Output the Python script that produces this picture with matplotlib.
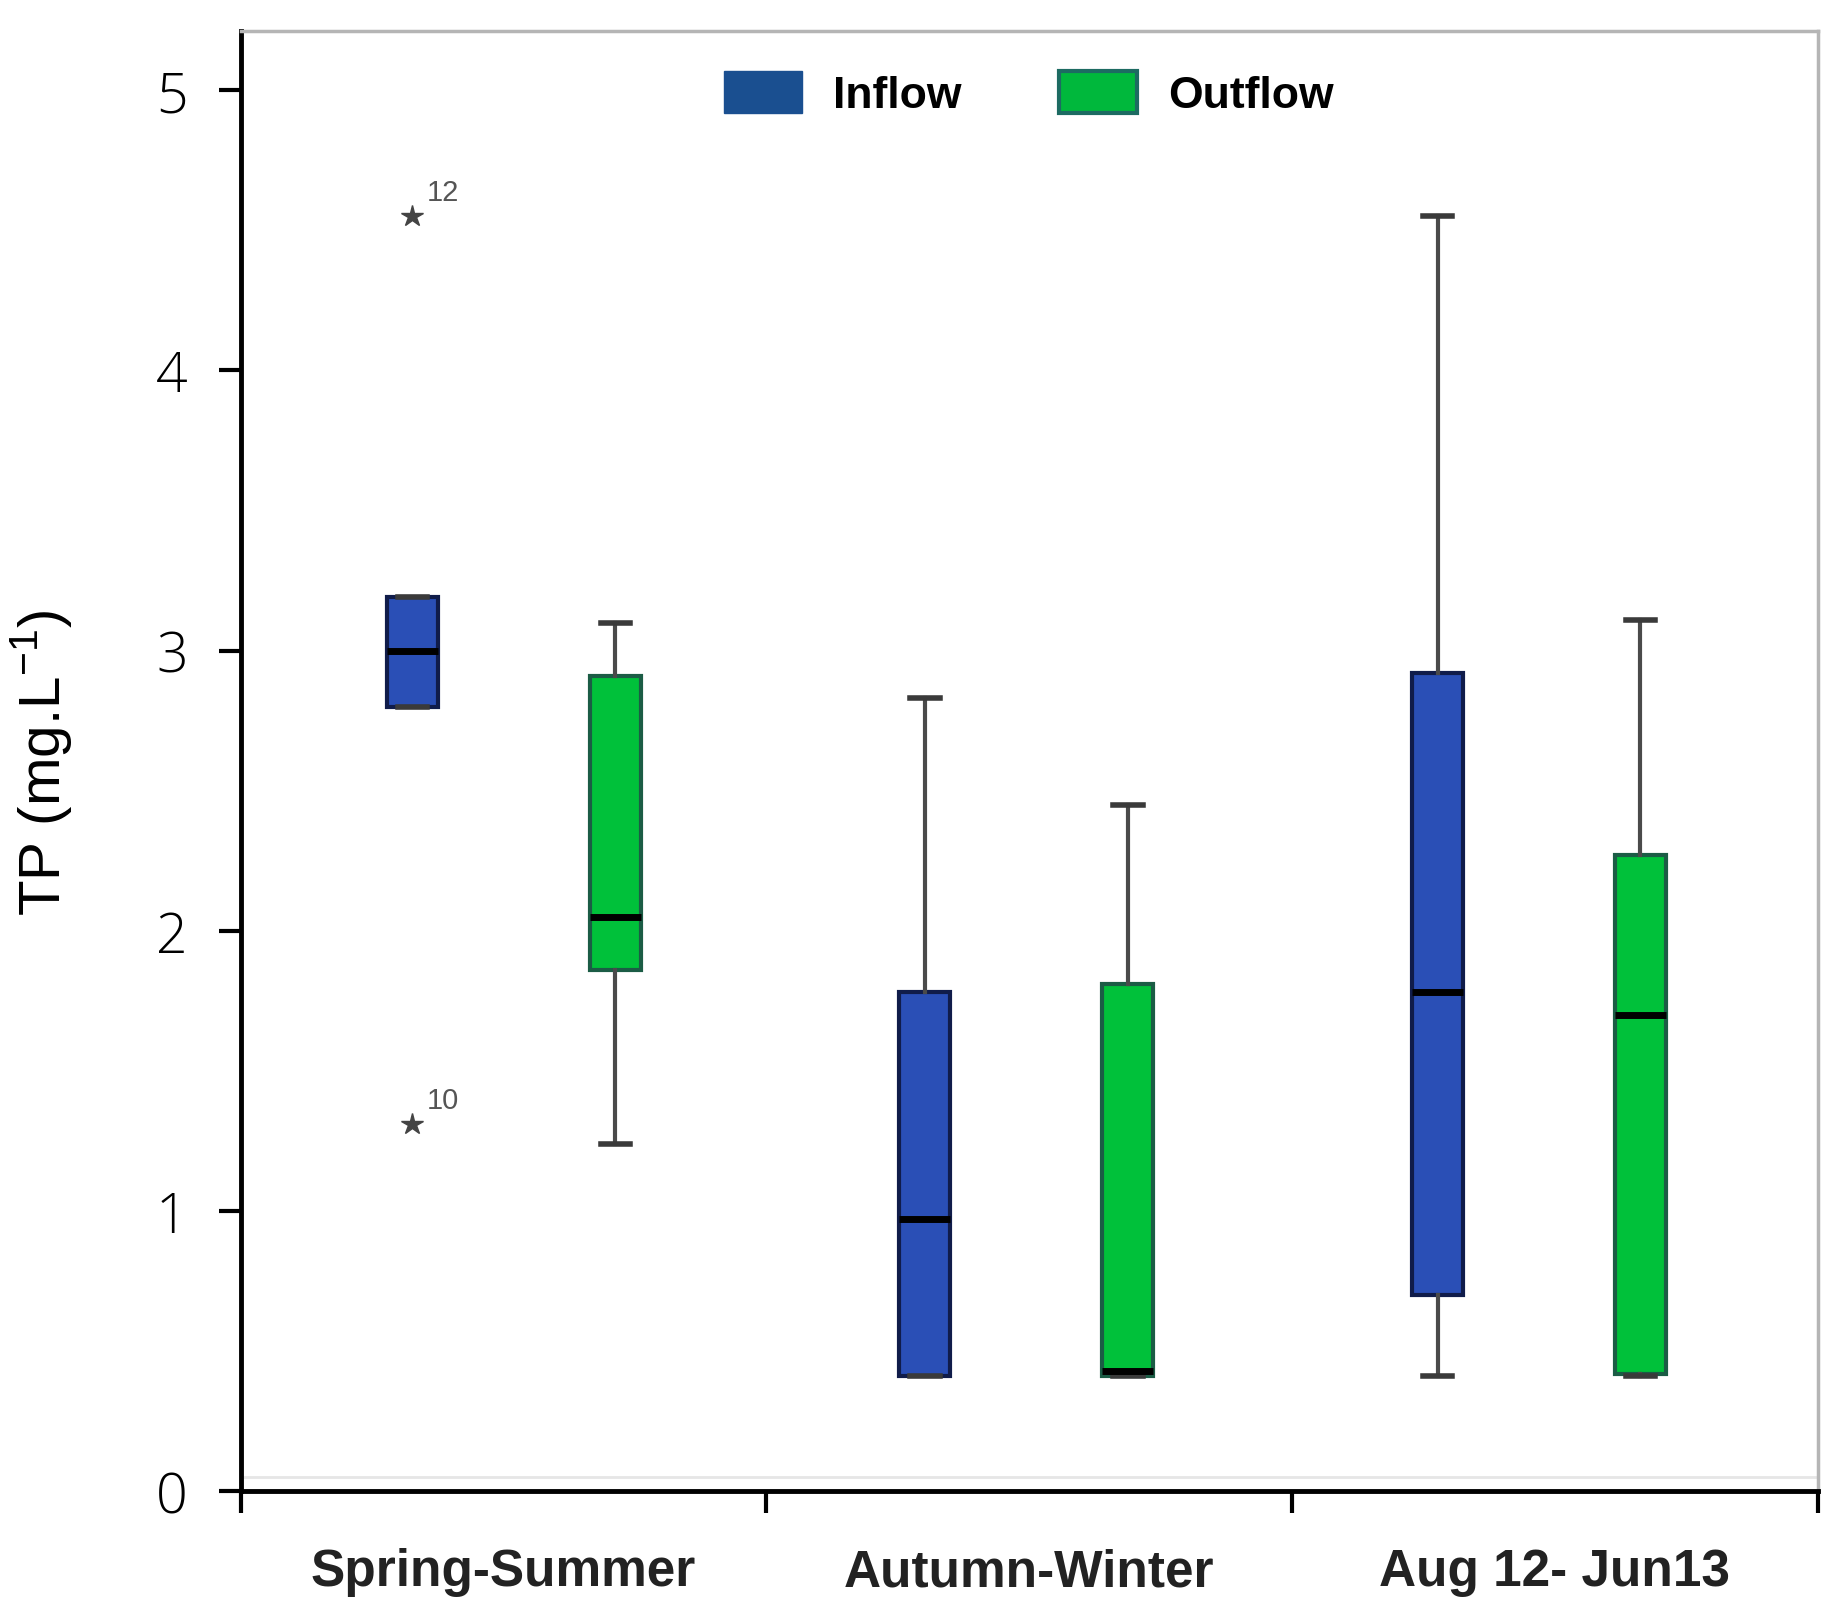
import matplotlib
matplotlib.use("Agg")
import matplotlib.pyplot as plt
from matplotlib.patches import Patch

# data (TP, mg/L)
categories = ["Spring-Summer", "Autumn-Winter", "Aug 12- Jun13"]
series = ["Inflow", "Outflow"]

# per box: Inflow SS, Outflow SS, Inflow AW, Outflow AW, Inflow Aug-Jun, Outflow Aug-Jun
whislo = [2.80, 1.24, 0.41, 0.41, 0.41, 0.41]
q1 = [2.80, 1.86, 0.41, 0.41, 0.70, 0.42]
med = [3.00, 2.05, 0.97, 0.43, 1.78, 1.70]
q3 = [3.19, 2.91, 1.78, 1.81, 2.92, 2.27]
whishi = [3.19, 3.10, 2.83, 2.45, 4.55, 3.11]
fliers = [[4.55, 1.31], [], [], [], [], []]
flier_ids = [["12", "10"], [], [], [], [], []]

fill_cols = ["#2a4fb6", "#00c13a"]
edge_cols = ["#101c4a", "#1b5c45"]
legend_cols = ["#1a4f90", "#00b83c"]

plt.rcParams["font.family"] = ["Liberation Sans", "DejaVu Sans"]

fig = plt.figure(figsize=(18.36, 16.15), dpi=100)
ax = fig.add_axes([0.131, 0.076, 0.859, 0.904])

offset = 0.193
positions = []
stats = []
for g in range(len(categories)):
    centre = 0.52 + g * 0.975
    for s in range(len(series)):
        i = g * 2 + s
        positions.append(centre + (-offset if s == 0 else offset))
        stats.append(dict(whislo=whislo[i], q1=q1[i], med=med[i], q3=q3[i],
                          whishi=whishi[i], fliers=[]))

bp = ax.bxp(stats, positions=positions, widths=0.097, patch_artist=True,
            showfliers=False,
            whiskerprops=dict(color="#4a4a4a", linewidth=3),
            capprops=dict(color="#3a3a3a", linewidth=4),
            medianprops=dict(color="black", linewidth=5),
            manage_ticks=False)
for i, box in enumerate(bp["boxes"]):
    box.set_facecolor(fill_cols[i % 2])
    box.set_edgecolor(edge_cols[i % 2])
    box.set_linewidth(3)
for cap in bp["caps"]:
    x0, x1 = cap.get_xdata()
    c = (x0 + x1) / 2
    cap.set_xdata([c - 0.028, c + 0.028])

# outliers as stars with case numbers
for i, vals in enumerate(fliers):
    for v, lab in zip(vals, flier_ids[i]):
        ax.plot(positions[i], v, marker="*", color="#444444", markersize=16,
                linestyle="none")
        ax.annotate(lab, (positions[i], v), xytext=(10, 12),
                    textcoords="offset points", fontsize=21, color="#555555")

ax.axhline(0.05, color="#e6e6e6", linewidth=2, zorder=0)

ax.set_xlim(0, 3)
ax.set_ylim(0, 5.21)
ax.set_yticks([0, 1, 2, 3, 4, 5])
ax.set_yticklabels(["0", "1", "2", "3", "4", "5"], fontsize=40,
                   family=["Open Sans", "DejaVu Sans"], fontweight="light")
ax.set_xticks([0, 1, 2, 3])
ax.set_xticklabels([])
for g, name in enumerate(categories):
    ax.text(g + 0.5, -0.2, name, ha="center", va="top", fontsize=37,
            fontweight="bold", color="#222222")

ax.tick_params(axis="both", direction="out", length=16, width=3, color="black")
ax.tick_params(axis="y", pad=22)
ax.set_ylabel("TP (mg.L$^{\\mathregular{-1}}$)", fontsize=42)
ax.yaxis.set_label_coords(-0.105, 0.5)

for side in ["left", "bottom"]:
    ax.spines[side].set_linewidth(3.5)
    ax.spines[side].set_color("black")
for side in ["top", "right"]:
    ax.spines[side].set_linewidth(2.5)
    ax.spines[side].set_color("#b5b5b5")

handles = [Patch(facecolor=legend_cols[0], edgecolor=legend_cols[0]),
           Patch(facecolor=legend_cols[1], edgecolor="#1d6b62", linewidth=3)]
leg = ax.legend(handles, series, loc="upper center", ncol=2, frameon=False,
                bbox_to_anchor=(0.5, 1.0), handlelength=1.75, handleheight=1.05,
                columnspacing=2.2, handletextpad=0.7,
                prop=dict(weight="bold", size=32))

fig.savefig("out.png", dpi=100, facecolor="white")
